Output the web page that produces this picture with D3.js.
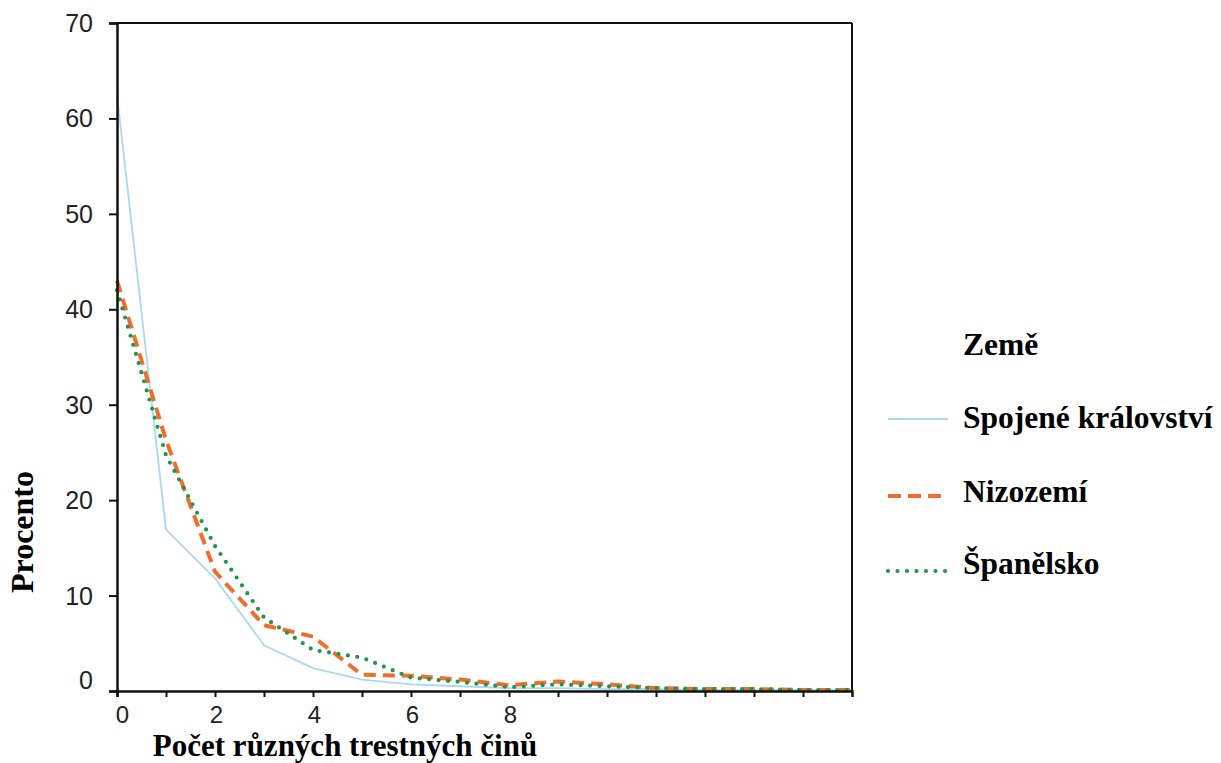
<!DOCTYPE html>
<html>
<head>
<meta charset="utf-8">
<script src="https://cdn.jsdelivr.net/npm/d3@7"></script>
<style>
  html, body { margin: 0; padding: 0; background: #ffffff; }
  svg { display: block; }
</style>
</head>
<body>
<svg id="chart" width="1221" height="763"></svg>
<script>
// ---- data ----
const counts = [0, 1, 2, 3, 4, 5, 6, 7, 8, 9, 10, 11, 12, 13, 14, 15];
const ukValues = [62.5, 16.9, 11.8, 4.8, 2.4, 1.2, 0.7, 0.5, 0.3, 0.3, 0.2, 0.2, 0.1, 0.1, 0.1, 0.1];
const nlValues = [43.0, 26.3, 12.5, 6.9, 5.7, 1.7, 1.6, 1.2, 0.6, 1.0, 0.7, 0.3, 0.2, 0.2, 0.1, 0.1];
const esValues = [42.0, 24.7, 15.2, 7.7, 4.3, 3.5, 1.4, 0.95, 0.4, 0.7, 0.5, 0.3, 0.2, 0.2, 0.1, 0.1];
const seriesNames = ["Spojené království", "Nizozemí", "Španělsko"];
const yTicks = [0, 10, 20, 30, 40, 50, 60, 70];
const xTickLabels = [0, 2, 4, 6, 8];
const legendTitle = "Země";
const xTitle = "Počet různých trestných činů";
const yTitle = "Procento";

// ---- layout ----
const svg = d3.select("#chart");
const x = d3.scaleLinear().domain([0, 15]).range([117, 852]);
const y = d3.scaleLinear().domain([0, 70]).range([691, 23]);

const styles = [
  { color: "#a9d9f2", width: 1.8, dash: null, cap: "butt" },
  { color: "#ee6f2d", width: 4, dash: "12,7", cap: "butt" },
  { color: "#20964a", width: 4.2, dash: "0,9.5", cap: "round" }
];
const data = [ukValues, nlValues, esValues];

// lines (drawn before axes so frame sits on top)
const line = d3.line().x((d, i) => x(counts[i])).y(d => y(d));
data.forEach((vals, k) => {
  const s = styles[k];
  svg.append("path")
    .datum(vals)
    .attr("d", line)
    .attr("fill", "none")
    .attr("stroke", s.color)
    .attr("stroke-width", s.width)
    .attr("stroke-linecap", s.cap)
    .attr("stroke-linejoin", "round")
    .attr("stroke-dasharray", s.dash);
});

// frame (top and right)
svg.append("line").attr("x1", x(0)).attr("x2", x(15)).attr("y1", y(70)).attr("y2", y(70))
  .attr("stroke", "#111").attr("stroke-width", 2);
svg.append("line").attr("x1", x(15)).attr("x2", x(15)).attr("y1", y(70)).attr("y2", y(0))
  .attr("stroke", "#111").attr("stroke-width", 2);

// y axis
const yAxis = d3.axisLeft(y).tickValues(yTicks).tickSize(8).tickPadding(16).tickFormat(d3.format("d"));
const gy = svg.append("g").attr("transform", `translate(${x(0)},0)`).call(yAxis);
gy.select(".domain").attr("stroke", "#111").attr("stroke-width", 2.5);
gy.selectAll(".tick line").attr("stroke", "#111").attr("stroke-width", 2);
gy.selectAll(".tick text")
  .attr("font-family", "Liberation Sans, Arial, sans-serif")
  .attr("font-size", 25)
  .attr("fill", "#222")
  .attr("dy", d => d === 0 ? "-0.12em" : "0.34em");

// x axis
const xAxis = d3.axisBottom(x).tickValues(d3.range(0, 15)).tickSize(6).tickPadding(9)
  .tickFormat(d => xTickLabels.includes(d) ? d : "");
const gx = svg.append("g").attr("transform", `translate(0,${y(0)})`).call(xAxis);
gx.select(".domain").attr("stroke", "#111").attr("stroke-width", 2.5);
gx.selectAll(".tick line").attr("stroke", "#111").attr("stroke-width", 2);
gx.selectAll(".tick text")
  .attr("font-family", "Liberation Sans, Arial, sans-serif")
  .attr("font-size", 24)
  .attr("fill", "#222")
  .attr("dx", d => d === 0 ? 5 : 1);

// axis titles
svg.append("text")
  .attr("x", 345).attr("y", 756)
  .attr("text-anchor", "middle")
  .attr("font-family", "Liberation Serif, Times New Roman, serif")
  .attr("font-weight", "bold")
  .attr("font-size", 31)
  .attr("fill", "#000")
  .text(xTitle);

svg.append("text")
  .attr("transform", "translate(33,532) rotate(-90)")
  .attr("text-anchor", "middle")
  .attr("font-family", "Liberation Serif, Times New Roman, serif")
  .attr("font-weight", "bold")
  .attr("font-size", 32)
  .attr("fill", "#000")
  .text(yTitle);

// legend
const legend = svg.append("g");
legend.append("text")
  .attr("x", 963).attr("y", 355)
  .attr("font-family", "Liberation Serif, Times New Roman, serif")
  .attr("font-weight", "bold")
  .attr("font-size", 31.5)
  .attr("fill", "#000")
  .text(legendTitle);

const legendBaselines = [428, 502, 574];
const legendLineY = [419, 496, 571];
seriesNames.forEach((name, k) => {
  const s = styles[k];
  legend.append("line")
    .attr("x1", 888).attr("x2", 948)
    .attr("y1", legendLineY[k]).attr("y2", legendLineY[k])
    .attr("stroke", s.color)
    .attr("stroke-width", s.width)
    .attr("stroke-linecap", s.cap)
    .attr("stroke-dasharray", k === 1 ? "13,7" : (k === 2 ? "0,9.5" : null));
  legend.append("text")
    .attr("x", 963).attr("y", legendBaselines[k])
    .attr("font-family", "Liberation Serif, Times New Roman, serif")
    .attr("font-weight", "bold")
    .attr("font-size", 31.5)
    .attr("fill", "#000")
    .text(name);
});
</script>
</body>
</html>
